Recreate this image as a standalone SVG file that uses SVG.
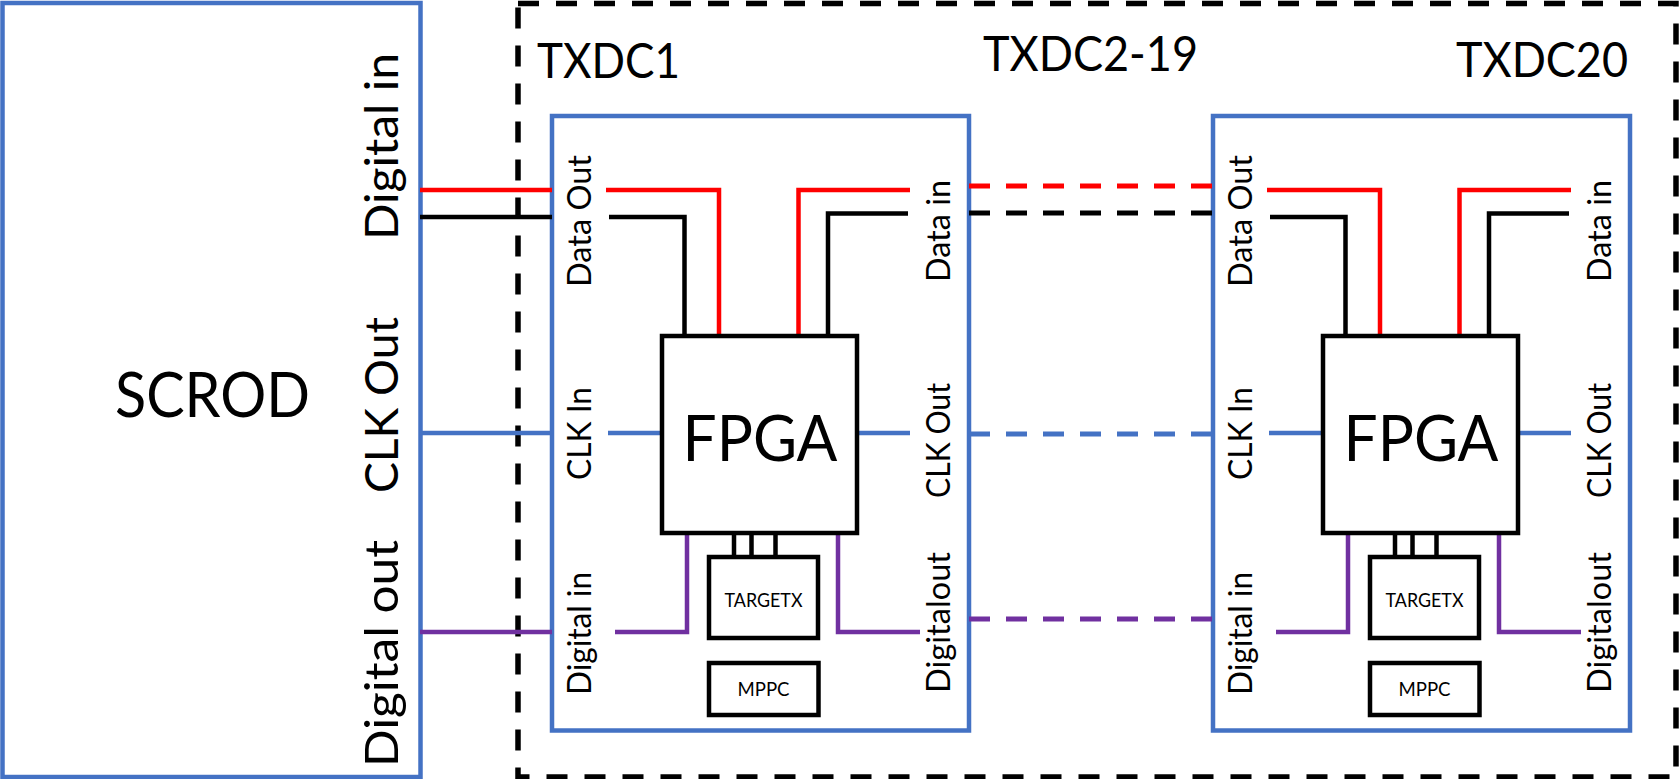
<svg xmlns="http://www.w3.org/2000/svg" width="1679" height="779" viewBox="0 0 1679 779">
<style>
.blue{fill:none;stroke:#4472C4;stroke-width:4.5}
.box{fill:#fff;stroke:#000;stroke-width:4.5}
.cont{fill:none;stroke:#000;stroke-width:5.5;stroke-dasharray:21 17}
.w{fill:none;stroke-width:4.5;stroke-linejoin:miter}
.r{stroke:#FF0000}
.k{stroke:#000}
.b{stroke:#4472C4}
.p{stroke:#7030A0}
.d{stroke-dasharray:21 16;stroke-width:5}
text{font-family:Lato,"Open Sans","Liberation Sans",sans-serif;fill:#000}
.big{font-size:48px}
.side{font-size:47px}
.lbl{font-size:32.5px}
.sm{font-size:19px}
</style>
<rect width="1679" height="779" fill="#fff"/>
<g id="txdc-chain">
<rect x="518" y="3.5" width="1158" height="773.5" class="cont"/>
<text class="big" x="983" y="71" textLength="215" lengthAdjust="spacingAndGlyphs">TXDC2-19</text>
</g>
<g id="scrod">
<rect x="2.5" y="3" width="418" height="774" class="blue"/>
<text x="212.5" y="417" font-size="62" text-anchor="middle" textLength="195" lengthAdjust="spacingAndGlyphs">SCROD</text>
<text class="side" transform="translate(398,146.5) rotate(-90)" text-anchor="middle" textLength="187" lengthAdjust="spacingAndGlyphs">Digital in</text>
<text class="side" transform="translate(398,405) rotate(-90)" text-anchor="middle" textLength="176" lengthAdjust="spacingAndGlyphs">CLK Out</text>
<text class="side" transform="translate(398,653.5) rotate(-90)" text-anchor="middle" textLength="227" lengthAdjust="spacingAndGlyphs">Digital out</text>
</g>
<g id="txdc1">
<text class="big" x="537" y="78" textLength="143" lengthAdjust="spacingAndGlyphs">TXDC1</text>
<rect x="552" y="116" width="417" height="614.5" class="blue"/>
<text class="lbl" transform="translate(591,221) rotate(-90)" text-anchor="middle" textLength="132" lengthAdjust="spacingAndGlyphs">Data Out</text>
<text class="lbl" transform="translate(591,433.5) rotate(-90)" text-anchor="middle" textLength="93" lengthAdjust="spacingAndGlyphs">CLK In</text>
<text class="lbl" transform="translate(591,633.5) rotate(-90)" text-anchor="middle" textLength="123" lengthAdjust="spacingAndGlyphs">Digital in</text>
<text class="lbl" transform="translate(950,231) rotate(-90)" text-anchor="middle" textLength="102" lengthAdjust="spacingAndGlyphs">Data in</text>
<text class="lbl" transform="translate(950,440.5) rotate(-90)" text-anchor="middle" textLength="115" lengthAdjust="spacingAndGlyphs">CLK Out</text>
<text class="lbl" transform="translate(950,622.5) rotate(-90)" text-anchor="middle" textLength="141" lengthAdjust="spacingAndGlyphs">Digitalout</text>
</g>
<g id="txdc20">
<text class="big" x="1456" y="77" textLength="172" lengthAdjust="spacingAndGlyphs">TXDC20</text>
<g transform="translate(661,0)">
<rect x="552" y="116" width="417" height="614.5" class="blue"/>
<text class="lbl" transform="translate(591,221) rotate(-90)" text-anchor="middle" textLength="132" lengthAdjust="spacingAndGlyphs">Data Out</text>
<text class="lbl" transform="translate(591,433.5) rotate(-90)" text-anchor="middle" textLength="93" lengthAdjust="spacingAndGlyphs">CLK In</text>
<text class="lbl" transform="translate(591,633.5) rotate(-90)" text-anchor="middle" textLength="123" lengthAdjust="spacingAndGlyphs">Digital in</text>
<text class="lbl" transform="translate(950,231) rotate(-90)" text-anchor="middle" textLength="102" lengthAdjust="spacingAndGlyphs">Data in</text>
<text class="lbl" transform="translate(950,440.5) rotate(-90)" text-anchor="middle" textLength="115" lengthAdjust="spacingAndGlyphs">CLK Out</text>
<text class="lbl" transform="translate(950,622.5) rotate(-90)" text-anchor="middle" textLength="141" lengthAdjust="spacingAndGlyphs">Digitalout</text>
</g>
</g>
<g id="connectors">
<path class="w r" d="M420,190 H552"/>
<path class="w k" d="M420,217 H552"/>
<path class="w b" d="M420,433 H552"/>
<path class="w p" d="M420,632 H552"/>
<path class="w r d" d="M969,186 H1213"/>
<path class="w k d" d="M969,213 H1213"/>
<path class="w b d" d="M969,434 H1213"/>
<path class="w p d" d="M969,619 H1213"/>
<g id="txdc1-wiring">
<path class="w r" d="M606,190 H719 V336"/>
<path class="w k" d="M609,217 H684.5 V336"/>
<path class="w r" d="M798.5,336 V190 H910"/>
<path class="w k" d="M828,336 V213.5 H908"/>
<path class="w b" d="M608,433 H662"/>
<path class="w b" d="M857,433 H910"/>
<path class="w p" d="M615,632 H687 V533"/>
<path class="w p" d="M838,533 V632 H920"/>
<path class="w k" d="M734,533 V557 M751.5,533 V557 M775.5,533 V557"/>
</g>
<g id="txdc20-wiring" transform="translate(661,0)">
<path class="w r" d="M606,190 H719 V336"/>
<path class="w k" d="M609,217 H684.5 V336"/>
<path class="w r" d="M798.5,336 V190 H910"/>
<path class="w k" d="M828,336 V213.5 H908"/>
<path class="w b" d="M608,433 H662"/>
<path class="w b" d="M857,433 H910"/>
<path class="w p" d="M615,632 H687 V533"/>
<path class="w p" d="M838,533 V632 H920"/>
<path class="w k" d="M734,533 V557 M751.5,533 V557 M775.5,533 V557"/>
</g>
</g>
<g id="fpga1">
<rect x="662" y="336" width="195" height="197" class="box"/>
<text x="760" y="461" font-size="64" text-anchor="middle" textLength="155" lengthAdjust="spacingAndGlyphs">FPGA</text>
</g>
<g id="targetx1">
<rect x="709" y="557" width="109" height="81" class="box"/>
<text class="sm" x="763.5" y="607" text-anchor="middle" textLength="78" lengthAdjust="spacingAndGlyphs">TARGETX</text>
</g>
<g id="mppc1">
<rect x="709" y="663" width="109.5" height="52" class="box"/>
<text class="sm" x="763.5" y="696" text-anchor="middle" textLength="52" lengthAdjust="spacingAndGlyphs">MPPC</text>
</g>
<g id="fpga20" transform="translate(661,0)">
<rect x="662" y="336" width="195" height="197" class="box"/>
<text x="760" y="461" font-size="64" text-anchor="middle" textLength="155" lengthAdjust="spacingAndGlyphs">FPGA</text>
</g>
<g id="targetx20" transform="translate(661,0)">
<rect x="709" y="557" width="109" height="81" class="box"/>
<text class="sm" x="763.5" y="607" text-anchor="middle" textLength="78" lengthAdjust="spacingAndGlyphs">TARGETX</text>
</g>
<g id="mppc20" transform="translate(661,0)">
<rect x="709" y="663" width="109.5" height="52" class="box"/>
<text class="sm" x="763.5" y="696" text-anchor="middle" textLength="52" lengthAdjust="spacingAndGlyphs">MPPC</text>
</g>
</svg>
